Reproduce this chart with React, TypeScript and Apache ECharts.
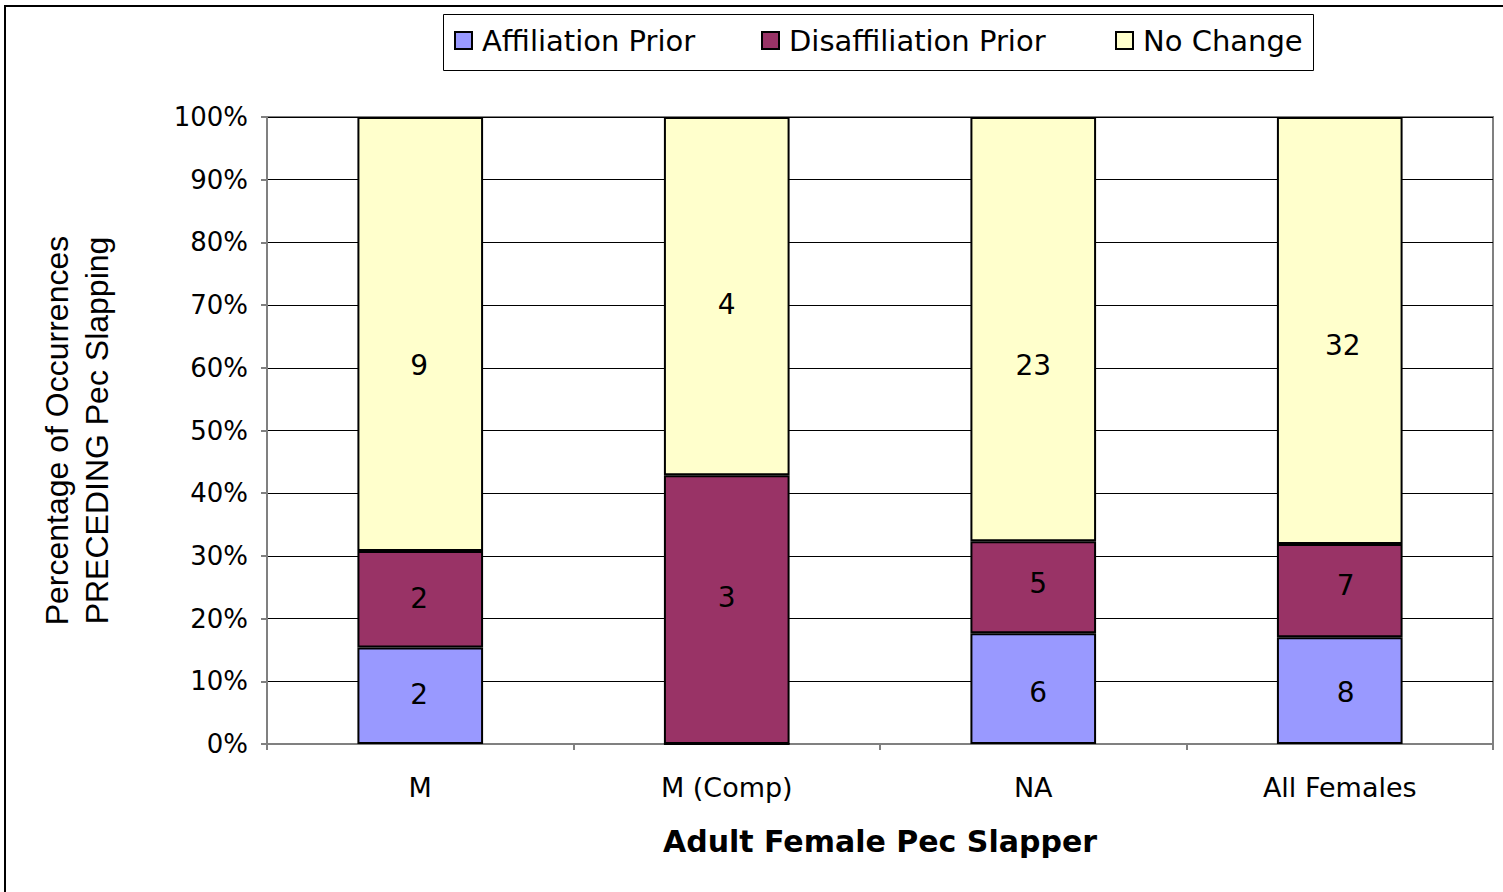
import React, { useEffect, useRef } from "react";
import * as echarts from "echarts";

const categories = ["M", "M (Comp)", "NA", "All Females"];
const affiliationPrior = [2, 0, 6, 8];
const disaffiliationPrior = [2, 3, 5, 7];
const noChange = [9, 4, 23, 32];
const seriesNames = ["Affiliation Prior", "Disaffiliation Prior", "No Change"];
const seriesColors = ["#9999FF", "#993366", "#FFFFCC"];
const xAxisTitle = "Adult Female Pec Slapper";
const yAxisTitle = "Percentage of Occurrences\nPRECEDING Pec Slapping";

// label nudges (pixels) as placed in the original chart
const labelShift = [
  [[-1, -1], [0, 0], [5, 4], [6, 2]],
  [[-1, -1], [0, -12], [5, -4], [6, -5]],
  [[-1, 31], [0, 8], [0, 36], [3, 15]],
];

const FONT = "DejaVu Sans";

export default function App() {
  const ref = useRef<HTMLDivElement>(null);
  useEffect(() => {
    if (!ref.current) return;
    const chart = echarts.init(ref.current, null, { renderer: "svg" });
    const counts = [affiliationPrior, disaffiliationPrior, noChange];
    const totals = categories.map((_, i) => counts.reduce((s, a) => s + a[i], 0));
    const legendX = [449, 756, 1110];
    const series = counts.map((arr, si) => ({
      name: seriesNames[si],
      type: "bar",
      stack: "total",
      barWidth: "41%",
      itemStyle: { color: seriesColors[si], borderColor: "#000", borderWidth: 2 },
      data: arr.map((v, i) => ({
        value: (v / totals[i]) * 100,
        count: v,
        label: { offset: labelShift[si][i] },
      })),
      label: {
        show: true,
        position: "inside",
        fontFamily: FONT,
        fontSize: 28,
        color: "#000",
        formatter: (p: any) => (p.data.count ? String(p.data.count) : ""),
      },
    }));
    chart.setOption({
      animation: false,
      backgroundColor: "#fff",
      legend: seriesNames.map((n, i) => ({
        data: [n],
        left: legendX[i],
        top: 21,
        itemWidth: 17,
        itemHeight: 17,
        icon: "rect",
        selectedMode: false,
        textStyle: { fontFamily: FONT, fontSize: 29, color: "#000", padding: [0, 0, 0, 5] },
      })),
      graphic: [
        {
          type: "rect",
          shape: { x: 5, y: 6, width: 1600, height: 1000 },
          style: { fill: "none", stroke: "#000", lineWidth: 2 },
          silent: true,
          z: -10,
        },
        {
          type: "rect",
          shape: { x: 443.5, y: 14.5, width: 870, height: 56 },
          style: { fill: "none", stroke: "#000", lineWidth: 1 },
          silent: true,
        },
      ],
      grid: {
        left: 267,
        top: 117,
        right: 10,
        bottom: 148,
        show: true,
        borderColor: "#808080",
        borderWidth: 2,
      },
      xAxis: {
        type: "category",
        data: categories,
        name: xAxisTitle,
        nameLocation: "middle",
        nameGap: 82,
        nameTextStyle: { fontFamily: FONT, fontSize: 30, fontWeight: "bold", color: "#000" },
        axisLine: { lineStyle: { color: "#808080", width: 2 } },
        axisTick: { show: true, length: 6, lineStyle: { color: "#808080", width: 2 } },
        axisLabel: { fontFamily: FONT, fontSize: 27, color: "#000", margin: 30 },
      },
      yAxis: {
        type: "value",
        min: 0,
        max: 100,
        interval: 10,
        name: yAxisTitle,
        nameLocation: "middle",
        nameGap: 150,
        nameTextStyle: { fontFamily: "Liberation Sans", fontSize: 32, color: "#000", lineHeight: 40 },
        axisLine: { show: true, lineStyle: { color: "#808080", width: 2 } },
        axisTick: { show: true, length: 6, lineStyle: { color: "#808080", width: 2 } },
        axisLabel: { fontFamily: FONT, fontSize: 26, color: "#000", margin: 19, formatter: "{value}%" },
        splitLine: { lineStyle: { color: "#000", width: 1 } },
      },
      series,
    });
    return () => chart.dispose();
  }, []);
  return (
    <div
      ref={ref}
      style={{ position: "absolute", left: 0, top: 0, width: 1503, height: 892 }}
    />
  );
}
